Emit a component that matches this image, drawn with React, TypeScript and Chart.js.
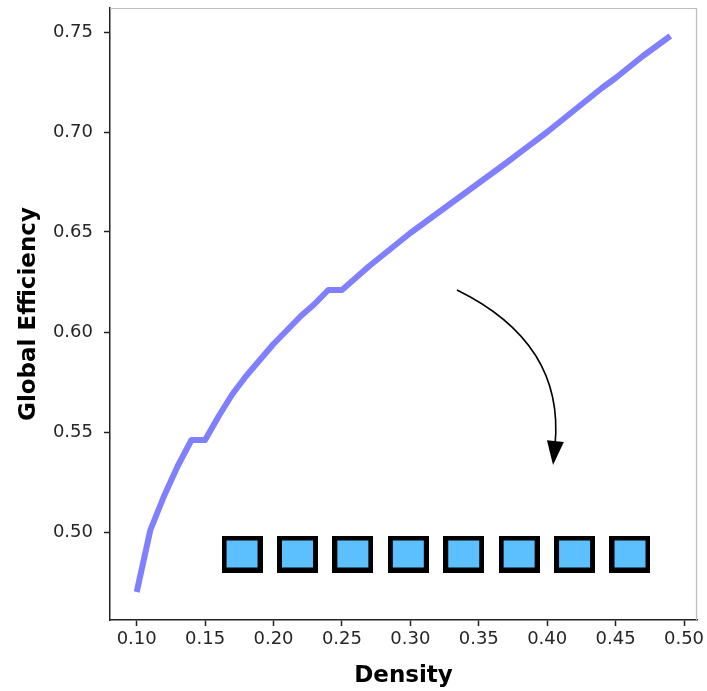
import React, { useEffect, useRef } from "react";
import { Chart, registerables } from "chart.js";

Chart.register(...registerables);

// ---- data ----
const DENSITY = [
  0.10, 0.11, 0.12, 0.13, 0.14, 0.15, 0.16, 0.17, 0.18, 0.19,
  0.20, 0.21, 0.22, 0.23, 0.24, 0.25, 0.26, 0.27, 0.28, 0.29,
  0.30, 0.31, 0.32, 0.33, 0.34, 0.35, 0.36, 0.37, 0.38, 0.39,
  0.40, 0.41, 0.42, 0.43, 0.44, 0.45, 0.46, 0.47, 0.48, 0.49,
];
const GLOBAL_EFFICIENCY = [
  0.470, 0.501, 0.518, 0.533, 0.546, 0.546, 0.558, 0.569, 0.578, 0.586,
  0.594, 0.601, 0.608, 0.614, 0.621, 0.621, 0.627, 0.633, 0.6385, 0.644,
  0.6495, 0.6545, 0.6595, 0.6645, 0.6695, 0.6745, 0.6795, 0.6845, 0.6897, 0.6948,
  0.700, 0.7055, 0.711, 0.7165, 0.722, 0.727, 0.7325, 0.738, 0.743, 0.748,
];
const MARKER_X = [0.177, 0.2175, 0.258, 0.2985, 0.339, 0.3795, 0.42, 0.4605];
const MARKER_Y = [0.489, 0.489, 0.489, 0.489, 0.489, 0.489, 0.489, 0.489];

const X_TICKS = [0.10, 0.15, 0.20, 0.25, 0.30, 0.35, 0.40, 0.45, 0.50];
const Y_TICKS = [0.50, 0.55, 0.60, 0.65, 0.70, 0.75];
const X_LIMITS = [0.0805, 0.5095];
const Y_LIMITS = [0.456, 0.762];

// curved annotation arrow (data coordinates): start, control, tip
const ARROW_START = [0.3341, 0.621];
const ARROW_CONTROL = [0.413, 0.5945];
const ARROW_END = [0.4043, 0.5335];

const X_TITLE = "Density";
const Y_TITLE = "Global Efficiency";

const FONT = "'DejaVu Sans', 'Liberation Sans', sans-serif";

function makeSquareMarker(): HTMLCanvasElement {
  const c = document.createElement("canvas");
  c.width = 41;
  c.height = 37;
  const g = c.getContext("2d")!;
  g.fillStyle = "#000000";
  g.fillRect(0, 0, 41, 37);
  g.fillStyle = "rgb(92,192,255)";
  g.fillRect(5, 5, 31, 27);
  return c;
}

const overlayPlugin = {
  id: "overlay",
  afterDatasetsDraw(chart: any) {
    const { ctx, chartArea: a, scales } = chart;
    const x = scales.x;
    const y = scales.y;
    ctx.save();
    // top and right spines (light)
    ctx.strokeStyle = "#bdbdbd";
    ctx.lineWidth = 1.2;
    ctx.beginPath();
    ctx.moveTo(a.left, a.top + 0.5);
    ctx.lineTo(a.right - 0.5, a.top + 0.5);
    ctx.lineTo(a.right - 0.5, a.bottom);
    ctx.stroke();

    // arrow
    const sx = x.getPixelForValue(ARROW_START[0]);
    const sy = y.getPixelForValue(ARROW_START[1]);
    const cx = x.getPixelForValue(ARROW_CONTROL[0]);
    const cy = y.getPixelForValue(ARROW_CONTROL[1]);
    const ex = x.getPixelForValue(ARROW_END[0]);
    const ey = y.getPixelForValue(ARROW_END[1]);
    const dx = ex - cx;
    const dy = ey - cy;
    const len = Math.hypot(dx, dy);
    const ux = dx / len;
    const uy = dy / len;
    const hl = 24;
    const hw = 8.5;
    const bx = ex - ux * hl;
    const by = ey - uy * hl;
    ctx.strokeStyle = "#000";
    ctx.lineWidth = 1.6;
    ctx.beginPath();
    ctx.moveTo(sx, sy);
    ctx.quadraticCurveTo(cx, cy, bx + ux * 4, by + uy * 4);
    ctx.stroke();
    ctx.fillStyle = "#000";
    ctx.beginPath();
    ctx.moveTo(ex, ey);
    ctx.lineTo(bx - uy * hw, by + ux * hw);
    ctx.lineTo(bx + uy * hw, by - ux * hw);
    ctx.closePath();
    ctx.fill();
    ctx.restore();
  },
};

export default function App() {
  const ref = useRef<HTMLCanvasElement>(null);

  useEffect(() => {
    if (!ref.current) return;
    const marker = makeSquareMarker();
    const chart = new Chart(ref.current, {
      type: "line",
      data: {
        datasets: [
          {
            data: DENSITY.map((d, i) => ({ x: d, y: GLOBAL_EFFICIENCY[i] })),
            borderColor: "rgb(128,128,255)",
            borderWidth: 6,
            borderJoinStyle: "round",
            pointRadius: 0,
            tension: 0,
            fill: false,
          },
          {
            data: MARKER_X.map((d, i) => ({ x: d, y: MARKER_Y[i] })),
            showLine: false,
            pointStyle: marker as any,
            pointRadius: 20,
            pointHoverRadius: 20,
          },
        ],
      },
      options: {
        responsive: false,
        animation: false,
        events: [],
        layout: { autoPadding: false, padding: { left: 0, top: 8, right: 10, bottom: 0 } },
        plugins: { legend: { display: false }, tooltip: { enabled: false } },
        scales: {
          x: {
            type: "linear",
            min: X_LIMITS[0],
            max: X_LIMITS[1],
            afterBuildTicks: (s: any) => {
              s.ticks = X_TICKS.map((v) => ({ value: v }));
            },
            afterFit: (s: any) => {
              s.height = 71;
              s.paddingLeft = 0;
              s.paddingRight = 0;
            },
            grid: {
              display: true,
              drawOnChartArea: false,
              drawTicks: true,
              tickLength: 6,
              tickColor: "#222",
              tickWidth: 1.5,
            },
            border: { display: true, color: "#222", width: 1.5 },
            ticks: {
              padding: 3,
              color: "#262626",
              font: { family: FONT, size: 18 },
              callback: (v: any) => Number(v).toFixed(2),
              maxRotation: 0,
              autoSkip: false,
            },
            title: {
              display: true,
              text: X_TITLE,
              color: "#000",
              font: { family: FONT, size: 23, weight: "bold" },
              padding: { top: 0, bottom: 1 },
            },
          },
          y: {
            type: "linear",
            min: Y_LIMITS[0],
            max: Y_LIMITS[1],
            afterBuildTicks: (s: any) => {
              s.ticks = Y_TICKS.map((v) => ({ value: v }));
            },
            afterFit: (s: any) => {
              s.width = 110;
              s.paddingTop = 0;
              s.paddingBottom = 0;
            },
            grid: {
              display: true,
              drawOnChartArea: false,
              drawTicks: true,
              tickLength: 6,
              tickColor: "#222",
              tickWidth: 1.5,
            },
            border: { display: true, color: "#222", width: 1.5 },
            ticks: {
              padding: 11,
              color: "#262626",
              font: { family: FONT, size: 18 },
              callback: (v: any) => Number(v).toFixed(2),
              autoSkip: false,
            },
            title: {
              display: true,
              text: Y_TITLE,
              color: "#000",
              font: { family: FONT, size: 23, weight: "bold" },
              padding: { top: 15, bottom: 0 },
            },
          },
        },
      },
      plugins: [overlayPlugin],
    });
    return () => chart.destroy();
  }, []);

  return (
    <div style={{ position: "absolute", left: 0, top: 0, width: 707, height: 691, background: "#fff" }}>
      <canvas ref={ref} width={707} height={691} style={{ display: "block" }} />
    </div>
  );
}
